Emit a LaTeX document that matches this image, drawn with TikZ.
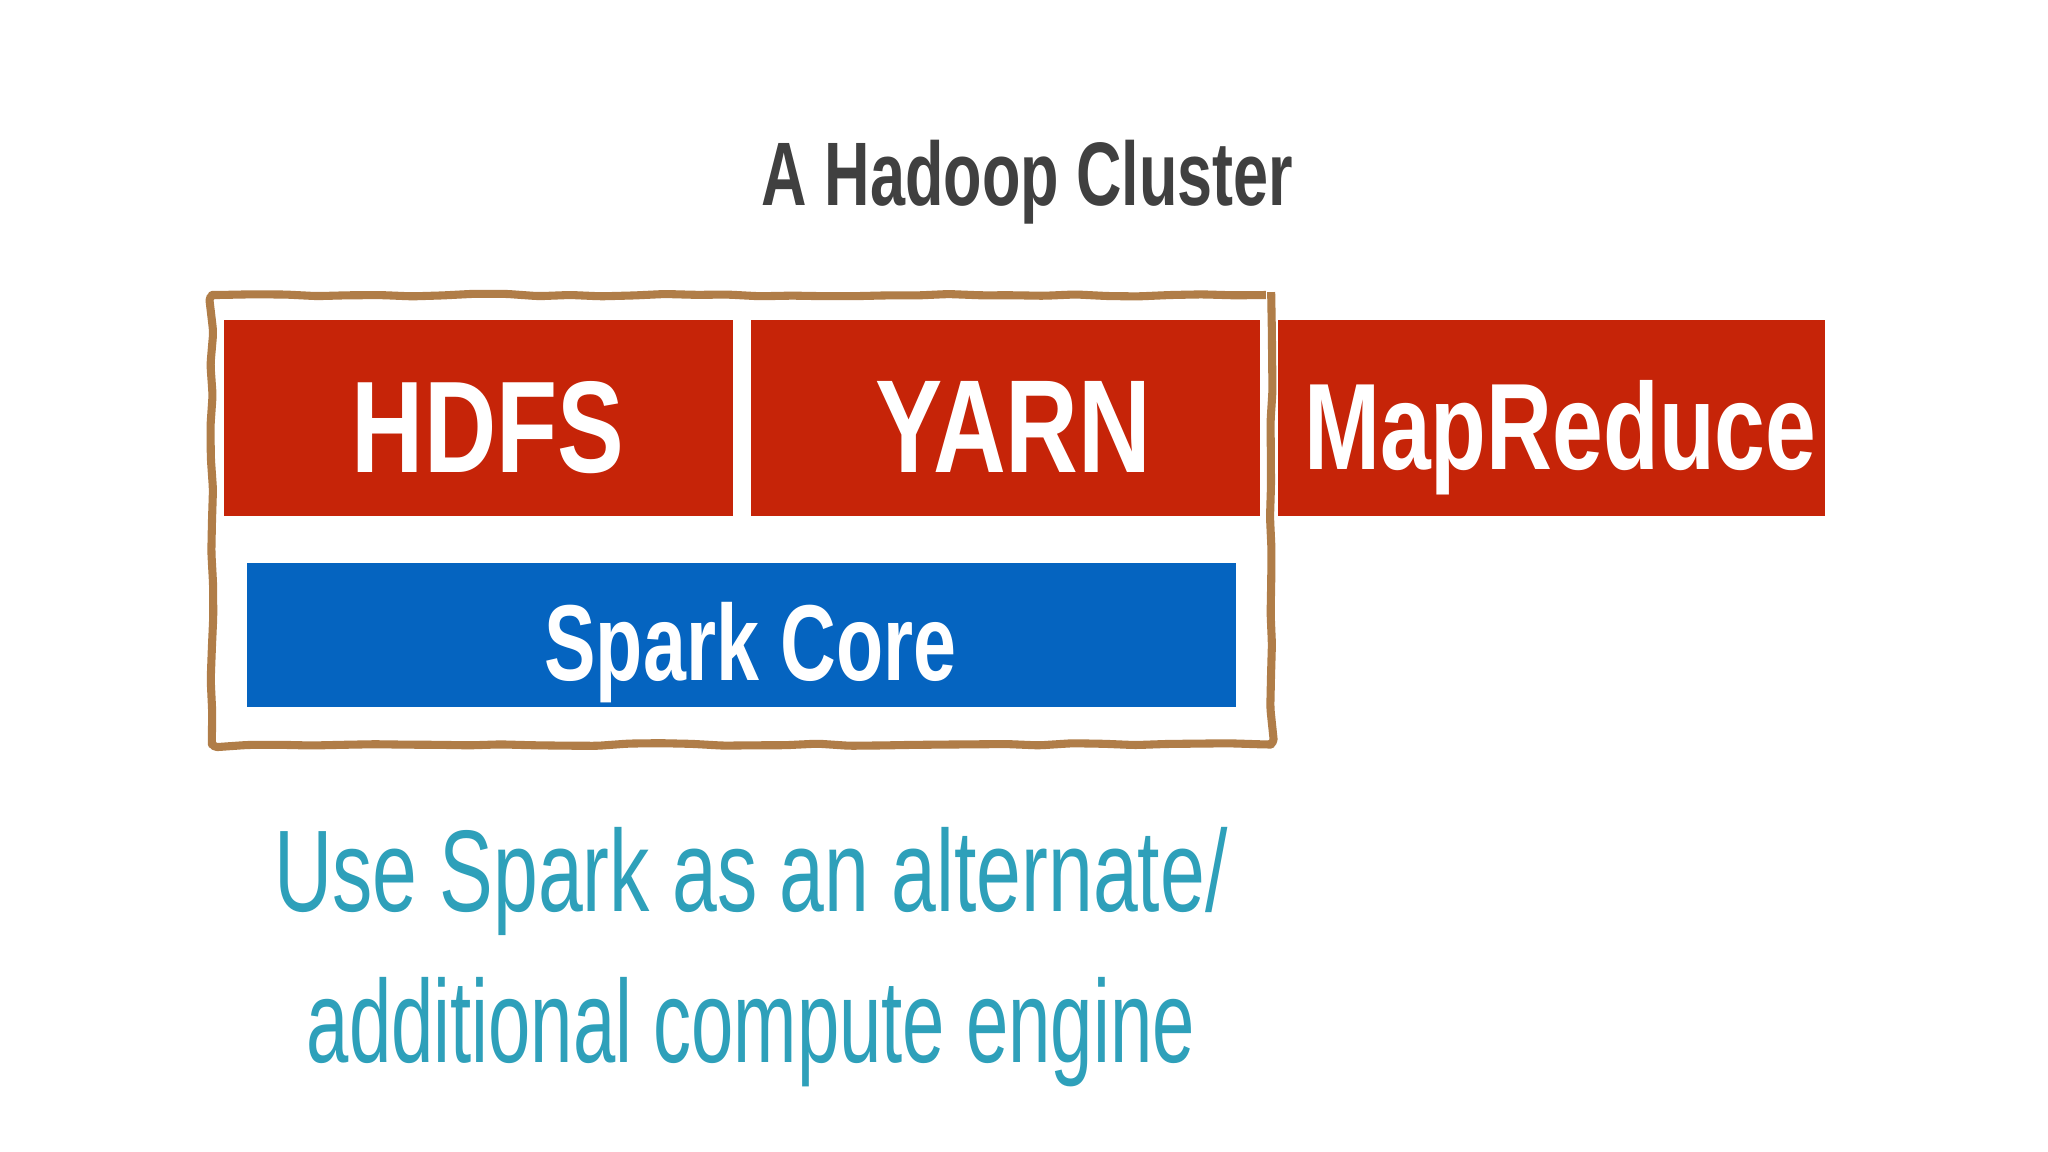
\documentclass[tikz,border=0pt]{standalone}
\usepackage{fontspec}
\setmainfont{Liberation Sans}
\usetikzlibrary{decorations.pathmorphing}
\definecolor{hred}{RGB}{198,36,8}
\definecolor{sblue}{RGB}{5,100,192}
\definecolor{tealtxt}{RGB}{46,160,186}
\definecolor{titlegray}{RGB}{64,64,64}
\definecolor{brownrim}{RGB}{176,125,72}
\begin{document}
\begin{tikzpicture}[x=1cm,y=1cm]
\tikzset{
  redbox/.style={fill=hred, draw=none, minimum height=1.98cm, inner sep=0pt, outer sep=0pt},
  bluebox/.style={fill=sblue, draw=none, inner sep=0pt, outer sep=0pt},
  rimbox/.style={draw=brownrim, line width=2.3pt, fill=white, inner sep=0pt, line join=round,
    decorate, decoration={random steps, segment length=9pt, amplitude=0.4pt}, rounded corners=1.5pt},
  lbl/.style={anchor=base, text=white, inner sep=0pt, font=\bfseries},
  note/.style={anchor=base, text=tealtxt, inner sep=0pt},
}
\pgfmathsetseed{7}
\useasboundingbox[fill=white] (0,0) rectangle (20.48,-11.52);
\begin{scope}[scale=0.99, transform shape]
% title
\node[anchor=base, text=titlegray, inner sep=0pt, font=\bfseries] (title) at (10.38,-2.08)
  {\resizebox{5.37cm}{0.66cm}{A Hadoop Cluster}};
% cluster frame
\node[rimbox, minimum width=10.70cm, minimum height=4.54cm] (cluster) at (7.49,-5.25) {};
% boxes
\node[redbox, minimum width=5.14cm] (hdfs) at (4.83,-4.22) {};
\node[redbox, minimum width=5.14cm] (yarn) at (10.16,-4.22) {};
\node[redbox, minimum width=5.52cm] (mapred) at (15.67,-4.22) {};
\node[bluebox, minimum width=9.99cm, minimum height=1.45cm] (spark) at (7.485,-6.415) {};
% labels
\node[lbl] (hdfs-t) at ([xshift=0.10cm,yshift=-0.55cm]hdfs.center) {\resizebox{2.75cm}{0.92cm}{HDFS}};
\node[lbl] (yarn-t) at ([xshift=0.075cm,yshift=-0.55cm]yarn.center) {\resizebox{2.79cm}{0.92cm}{YARN}};
\node[lbl] (mapred-t) at ([xshift=0.09cm,yshift=-0.52cm]mapred.center) {\resizebox{5.17cm}{0.90cm}{MapReduce}};
\node[lbl] (spark-t) at ([xshift=0.095cm,yshift=-0.46cm]spark.center) {\resizebox{4.16cm}{0.79cm}{Spark Core}};
% note
\node[note] (note1) at (7.585,-9.21) {\resizebox{9.63cm}{0.85cm}{Use Spark as an alternate/}};
\node[note] (note2) at (7.585,-10.73) {\resizebox{8.97cm}{0.86cm}{additional compute engine}};
\end{scope}
\end{tikzpicture}
\end{document}
